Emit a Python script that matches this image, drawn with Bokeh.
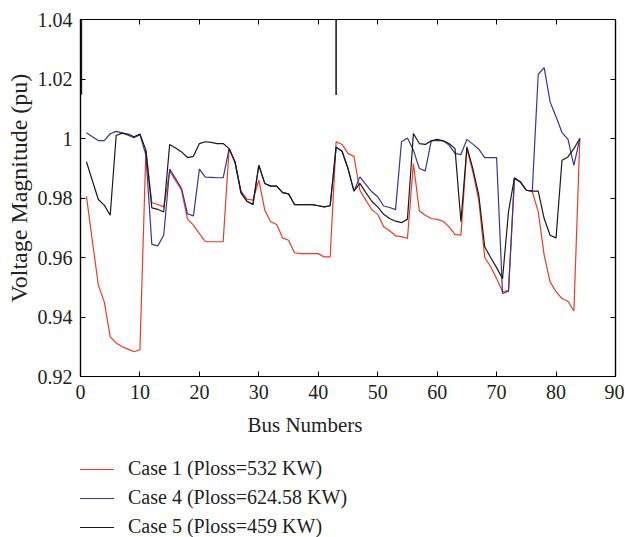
from bokeh.plotting import figure
from bokeh.layouts import column
from bokeh.models import LinearAxis, FixedTicker, Legend, LegendItem, Range1d, Title, ColumnDataSource
from bokeh.embed import file_html
from bokeh.resources import INLINE

bus = list(range(1, 85))

case1 = [0.9806, 0.9655, 0.9507, 0.9451, 0.9333, 0.9313, 0.9300, 0.9292, 0.9283, 0.9290,
         0.9961, 0.9784, 0.9778, 0.9770, 0.9890, 0.9858, 0.9826, 0.9729, 0.9709, 0.9680,
         0.9653, 0.9653, 0.9653, 0.9653, 0.9966, 0.9922, 0.9823, 0.9796, 0.9793, 0.9860,
         0.9759, 0.9720, 0.9711, 0.9666, 0.9658, 0.9616, 0.9613, 0.9613, 0.9613, 0.9613,
         0.9602, 0.9602, 0.9989, 0.9980, 0.9950, 0.9940, 0.9826, 0.9793, 0.9761, 0.9745,
         0.9703, 0.9690, 0.9673, 0.9670, 0.9664, 0.9916, 0.9757, 0.9742, 0.9731, 0.9728,
         0.9722, 0.9703, 0.9678, 0.9675, 0.9966, 0.9888, 0.9793, 0.9600, 0.9569, 0.9529,
         0.9485, 0.9490, 0.9866, 0.9854, 0.9826, 0.9821, 0.9754, 0.9608, 0.9518, 0.9485,
         0.9462, 0.9453, 0.9420, 1.0000]

case5 = [0.9922, 0.9858, 0.9795, 0.9776, 0.9742, 1.0010, 1.0018, 1.0015, 1.0006, 1.0015,
         0.9961, 0.9767, 0.9762, 0.9753, 0.9980, 0.9968, 0.9955, 0.9936, 0.9940, 0.9983,
         0.9989, 0.9987, 0.9983, 0.9983, 0.9966, 0.9920, 0.9817, 0.9789, 0.9778, 0.9910,
         0.9849, 0.9840, 0.9840, 0.9818, 0.9814, 0.9778, 0.9778, 0.9778, 0.9778, 0.9774,
         0.9770, 0.9774, 0.9971, 0.9957, 0.9899, 0.9823, 0.9849, 0.9818, 0.9789, 0.9770,
         0.9745, 0.9731, 0.9722, 0.9717, 0.9729, 1.0017, 0.9983, 0.9980, 0.9992, 0.9997,
         0.9992, 0.9983, 0.9966, 0.9720, 0.9972, 0.9899, 0.9810, 0.9636, 0.9600, 0.9566,
         0.9529, 0.9754, 0.9868, 0.9854, 0.9826, 0.9823, 0.9823, 0.9731, 0.9675, 0.9666,
         0.9927, 0.9938, 0.9966, 1.0000]

case4 = [1.0019, 1.0006, 0.9993, 0.9993, 1.0016, 1.0024, 1.0019, 1.0011, 1.0003, 1.0013,
         0.9944, 0.9644, 0.9639, 0.9675, 0.9897, 0.9865, 0.9832, 0.9747, 0.9740, 0.9897,
         0.9870, 0.9869, 0.9868, 0.9868, 0.9966, 0.9920, 0.9817, 0.9789, 0.9778, 0.9910,
         0.9849, 0.9840, 0.9840, 0.9818, 0.9814, 0.9778, 0.9778, 0.9778, 0.9778, 0.9774,
         0.9770, 0.9774, 0.9971, 0.9957, 0.9899, 0.9823, 0.9871, 0.9846, 0.9821, 0.9804,
         0.9773, 0.9768, 0.9761, 0.9989, 1.0002, 0.9961, 0.9899, 0.9891, 0.9992, 0.9994,
         0.9992, 0.9978, 0.9950, 0.9946, 0.9997, 0.9981, 0.9964, 0.9936, 0.9936, 0.9936,
         0.9479, 0.9487, 0.9866, 0.9854, 0.9826, 0.9824, 1.0216, 1.0238, 1.0123, 1.0073,
         1.0020, 0.9998, 0.9910, 1.0000]

spike_x = [0.15, 43.0]
spike_y0 = [1.0147, 1.0146]
spike_y1 = [1.04, 1.04]

x_ticks = [0, 10, 20, 30, 40, 50, 60, 70, 80, 90]
y_ticks = [0.92, 0.94, 0.96, 0.98, 1.0, 1.02, 1.04]
y_tick_labels = ["0.92", "0.94", "0.96", "0.98", "1", "1.02", "1.04"]

x_label = "Bus Numbers"
y_label = "Voltage Magnitude (pu)"
labels = ["Case 1 (Ploss=532 KW)", "Case 4 (Ploss=624.58 KW)", "Case 5 (Ploss=459 KW)"]
colors = ["#ee3b24", "#3a3496", "#1a1a1a"]

FONT = "Liberation Serif"
TXT = "#222222"

src = ColumnDataSource(dict(bus=bus, case1=case1, case4=case4, case5=case5))
series = ["case1", "case4", "case5"]

p = figure(frame_width=535, frame_height=357, x_range=Range1d(0, 90), y_range=Range1d(0.92, 1.04),
           output_backend="svg", toolbar_location=None,
           min_border_left=79, min_border_right=9, min_border_top=19, min_border_bottom=62)
p.background_fill_color = "white"
p.border_fill_color = "white"
p.outline_line_color = "black"
p.outline_line_width = 1.2
p.xgrid.visible = False
p.ygrid.visible = False

for s, c in zip(series, colors):
    p.line("bus", s, source=src, line_color=c, line_width=1.2)
p.segment(x0=spike_x, y0=spike_y0, x1=spike_x, y1=spike_y1, line_color="#222222", line_width=1.6)

def style_axis(ax, show_labels=True):
    ax.major_tick_in = 5
    ax.major_tick_out = 0
    ax.minor_tick_line_color = None
    ax.axis_line_color = "black"
    ax.axis_line_width = 1.2
    ax.major_tick_line_color = "black"
    ax.major_label_text_font = FONT
    ax.major_label_text_font_size = "20px"
    ax.major_label_text_color = TXT
    if not show_labels:
        ax.major_label_text_alpha = 0
        ax.major_label_text_font_size = "1px"
        ax.major_label_standoff = 0

xa = p.xaxis[0]
xa.ticker = FixedTicker(ticks=x_ticks)
xa.major_label_standoff = 8
style_axis(xa)

ya = p.yaxis[0]
ya.ticker = FixedTicker(ticks=y_ticks)
ya.major_label_overrides = {t: l for t, l in zip(y_ticks, y_tick_labels)}
ya.major_label_standoff = 8
style_axis(ya)

top = LinearAxis(ticker=FixedTicker(ticks=x_ticks))
style_axis(top, show_labels=False)
p.add_layout(top, "above")
right = LinearAxis(ticker=FixedTicker(ticks=y_ticks))
style_axis(right, show_labels=False)
p.add_layout(right, "right")

xt = Title(text=x_label, align="left", offset=167, standoff=19,
           text_font=FONT, text_font_size="21px", text_font_style="normal", text_color=TXT)
p.add_layout(xt, "below")
yt = Title(text=y_label, align="left", offset=74, standoff=6,
           text_font=FONT, text_font_size="24px", text_font_style="normal", text_color=TXT)
p.add_layout(yt, "left")

# legend figure below the chart (the series lie outside its ranges, so only the legend shows)
p2 = figure(width=623, height=92, x_range=Range1d(-20, -10), y_range=Range1d(-20, -10),
            x_axis_type=None, y_axis_type=None, output_backend="svg", toolbar_location=None,
            min_border=0)
p2.outline_line_color = None
p2.xgrid.visible = False
p2.ygrid.visible = False
g = [p2.line("bus", s, source=src, line_color=c, line_width=1.2) for s, c in zip(series, colors)]

legend = Legend(items=[LegendItem(label=lab, renderers=[rr]) for lab, rr in zip(labels, g)],
                location=(-2, 0), orientation="vertical")
legend.border_line_color = None
legend.background_fill_alpha = 0
legend.label_text_font = FONT
legend.label_text_font_size = "20px"
legend.label_text_color = TXT
legend.glyph_width = 36
legend.label_standoff = 14
legend.spacing = 6
legend.padding = 0
legend.margin = 0
legend.label_height = 22
legend.glyph_height = 22
p2.add_layout(legend, "center")

layout = column(p, p2, spacing=0)
open("out.html", "w").write(file_html(layout, INLINE))
